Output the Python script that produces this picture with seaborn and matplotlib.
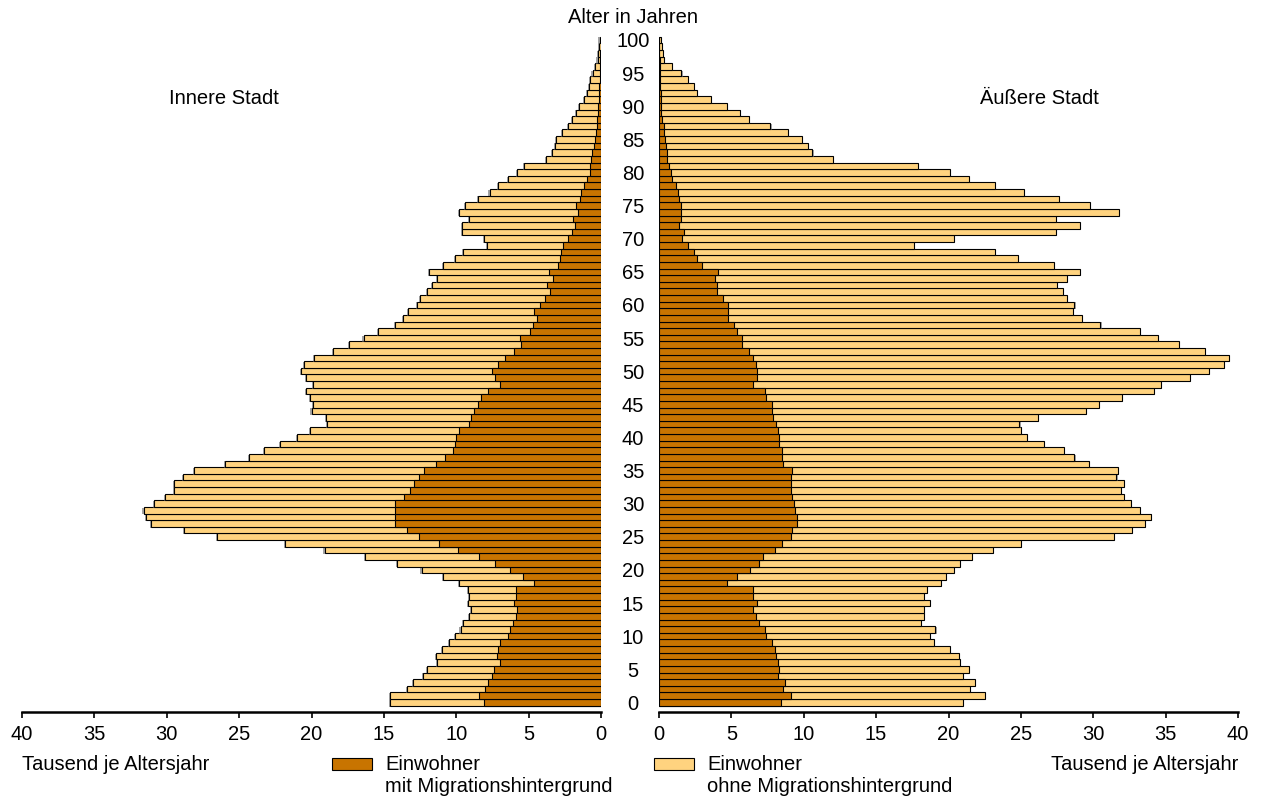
import matplotlib
matplotlib.use("Agg")
import matplotlib.pyplot as plt
import matplotlib.patheffects as pe
from matplotlib.patches import Rectangle
import seaborn as sns

# Altersjahre 0 bis 100
ages = list(range(101))

# Innere Stadt, Tausend je Altersjahr (gesamt = mit + ohne Migrationshintergrund)
innen_gesamt = [14.6, 14.6, 13.4, 13.0, 12.3, 12.0, 11.3, 11.4, 11.0, 10.5,
                10.1, 9.7, 9.5, 9.1, 9.0, 9.2, 9.1, 9.2, 9.8, 10.9,
                12.4, 14.1, 16.3, 19.1, 21.8, 26.5, 28.8, 31.1, 31.4, 31.6,
                30.9, 30.1, 29.5, 29.5, 28.9, 28.1, 26.0, 24.3, 23.3, 22.2,
                21.0, 20.1, 18.9, 19.0, 20.0, 19.9, 20.1, 20.4, 19.9, 20.4,
                20.7, 20.5, 19.8, 18.5, 17.4, 16.4, 15.4, 14.2, 13.7, 13.3,
                12.7, 12.5, 12.0, 11.7, 11.3, 11.9, 10.9, 10.1, 9.5, 7.9,
                8.1, 9.6, 9.6, 9.1, 9.8, 9.4, 8.5, 7.7, 7.1, 6.4,
                5.8, 5.3, 3.8, 3.4, 3.2, 3.1, 2.7, 2.3, 2.0, 1.7,
                1.5, 1.2, 0.95, 0.82, 0.74, 0.58, 0.40, 0.24, 0.18, 0.13, 0.10]
innen_mit = [8.1, 8.4, 8.0, 7.8, 7.5, 7.4, 7.0, 7.2, 7.1, 7.0,
             6.4, 6.3, 6.1, 5.9, 5.8, 6.0, 5.9, 5.9, 4.6, 5.4,
             6.3, 7.3, 8.4, 9.9, 11.2, 12.6, 13.4, 14.2, 14.2, 14.2,
             14.2, 13.6, 13.2, 12.9, 12.6, 12.2, 11.4, 10.8, 10.2, 10.1,
             10.0, 9.8, 9.1, 9.0, 8.8, 8.5, 8.3, 7.8, 7.0, 7.3,
             7.5, 7.1, 6.6, 6.0, 5.5, 5.6, 4.9, 4.7, 4.4, 4.6,
             4.2, 3.9, 3.5, 3.7, 3.3, 3.6, 3.0, 2.8, 2.75, 2.6,
             2.3, 2.0, 1.8, 1.9, 1.6, 1.7, 1.45, 1.4, 1.2, 1.0,
             0.79, 0.74, 0.66, 0.61, 0.45, 0.42, 0.34, 0.29, 0.26, 0.24,
             0.21, 0.16, 0.13, 0.12, 0.10, 0.08, 0.07, 0.05, 0.04, 0.03, 0.02]

# Äußere Stadt
aussen_gesamt = [21.0, 22.5, 21.5, 21.8, 21.0, 21.4, 20.8, 20.7, 20.1, 19.0,
                 18.7, 19.1, 18.1, 18.3, 18.3, 18.7, 18.3, 18.5, 19.5, 19.8,
                 20.4, 20.8, 21.6, 23.1, 25.0, 31.4, 32.7, 33.6, 34.0, 33.2,
                 32.6, 32.1, 31.9, 32.1, 31.6, 31.7, 29.7, 28.7, 28.0, 26.6,
                 25.4, 25.0, 24.9, 26.2, 29.5, 30.4, 32.0, 34.2, 34.7, 36.7,
                 38.0, 39.0, 39.4, 37.7, 35.9, 34.5, 33.2, 30.5, 29.2, 28.6,
                 28.7, 28.2, 27.9, 27.5, 28.2, 29.1, 27.3, 24.8, 23.2, 17.6,
                 20.4, 27.4, 29.1, 27.4, 31.8, 29.8, 27.6, 25.2, 23.2, 21.4,
                 20.1, 17.9, 12.0, 10.6, 10.3, 9.9, 8.9, 7.7, 6.2, 5.6,
                 4.7, 3.6, 2.6, 2.4, 2.0, 1.55, 0.92, 0.37, 0.29, 0.20, 0.14]
aussen_mit = [8.4, 9.1, 8.6, 8.7, 8.2, 8.3, 8.2, 8.1, 8.0, 7.8,
              7.4, 7.3, 6.9, 6.7, 6.5, 6.8, 6.5, 6.5, 4.7, 5.4,
              6.3, 6.9, 7.2, 8.0, 8.5, 9.1, 9.2, 9.5, 9.5, 9.4,
              9.3, 9.2, 9.1, 9.1, 9.1, 9.2, 8.6, 8.5, 8.5, 8.3,
              8.3, 8.2, 8.1, 7.9, 7.8, 7.8, 7.4, 7.3, 6.5, 6.8,
              6.8, 6.7, 6.5, 6.2, 5.7, 5.7, 5.4, 5.2, 4.8, 4.8,
              4.8, 4.4, 4.0, 4.0, 3.9, 4.1, 3.0, 2.6, 2.4, 2.0,
              1.6, 1.7, 1.4, 1.5, 1.5, 1.5, 1.35, 1.3, 1.2, 0.92,
              0.83, 0.72, 0.57, 0.52, 0.46, 0.40, 0.34, 0.32, 0.23, 0.17,
              0.17, 0.14, 0.11, 0.09, 0.07, 0.06, 0.05, 0.04, 0.03, 0.02, 0.02]

dunkel = "#C87400"
hell = "#FFD37F"
fs = 14.5

sns.set_style("white")
plt.rcParams["font.family"] = ["Liberation Sans", "DejaVu Sans"]
plt.rcParams["font.size"] = fs
plt.rcParams["text.color"] = "black"
plt.rcParams["xtick.color"] = "black"
plt.rcParams["ytick.color"] = "black"

W, H = 1263, 800
fig = plt.figure(figsize=(W / 100, H / 100), dpi=100)
ax_l = fig.add_axes([22 / W, 1 - 712 / H, 579 / W, 676 / H])
ax_r = fig.add_axes([659 / W, 1 - 712 / H, 579 / W, 676 / H])

for ax, gesamt, mit, dx in [(ax_l, innen_gesamt, innen_mit, -0.8),
                            (ax_r, aussen_gesamt, aussen_mit, 0.8)]:
    sns.barplot(x=gesamt, y=ages, orient="h", native_scale=True, width=1,
                color=hell, saturation=1, edgecolor="black", linewidth=0.8,
                errorbar=None, ax=ax)
    for p in ax.patches:
        p.set_path_effects([pe.SimplePatchShadow(offset=(dx, -0.6), shadow_rgbFace="0.4", alpha=0.6),
                            pe.Normal()])
    sns.barplot(x=mit, y=ages, orient="h", native_scale=True, width=1,
                color=dunkel, saturation=1, edgecolor="black", linewidth=0.8,
                errorbar=None, ax=ax)
    ax.set_ylim(-1.45, 100.6)
    ax.set_xticks(range(0, 41, 5))
    ax.set_xlabel("")
    ax.set_ylabel("")
    ax.tick_params(axis="x", direction="out", length=4, width=1.2, pad=5,
                   labelsize=fs, bottom=True, colors="black")
    sns.despine(ax=ax, left=True)
    ax.spines["bottom"].set_linewidth(1.8)
    ax.spines["bottom"].set_color("black")

ax_l.set_xlim(40, 0)
ax_r.set_xlim(0, 40)
ax_l.set_yticks([])
ax_r.set_yticks(range(0, 101, 5))
ax_r.tick_params(axis="y", length=0, pad=18.7, labelsize=fs, colors="black")
for lab in ax_r.get_yticklabels():
    lab.set_horizontalalignment("center")

fig.text(633 / W, 1 - 23 / H, "Alter in Jahren", ha="center", va="baseline", fontsize=fs)
fig.text(224 / W, 1 - 104 / H, "Innere Stadt", ha="center", va="baseline", fontsize=fs)
fig.text(1039 / W, 1 - 104 / H, "Äußere Stadt", ha="center", va="baseline", fontsize=fs)
fig.text(22 / W, 1 - 770 / H, "Tausend je Altersjahr", ha="left", va="baseline", fontsize=fs)
fig.text(1238 / W, 1 - 770 / H, "Tausend je Altersjahr", ha="right", va="baseline", fontsize=fs)

# Legende
for x0, farbe, zeile2 in [(332, dunkel, "mit Migrationshintergrund"),
                          (654, hell, "ohne Migrationshintergrund")]:
    fig.add_artist(Rectangle((x0 / W, 1 - 770 / H), 40 / W, 12 / H,
                             transform=fig.transFigure, facecolor=farbe,
                             edgecolor="black", linewidth=0.8,
                             path_effects=[pe.SimplePatchShadow(offset=(0.8, -0.8), shadow_rgbFace="0.4", alpha=0.6),
                                           pe.Normal()]))
    fig.text((x0 + 53) / W, 1 - 770 / H, "Einwohner", ha="left", va="baseline", fontsize=fs)
    fig.text((x0 + 53) / W, 1 - 792 / H, zeile2, ha="left", va="baseline", fontsize=fs)

fig.savefig("out.png", dpi=100)
